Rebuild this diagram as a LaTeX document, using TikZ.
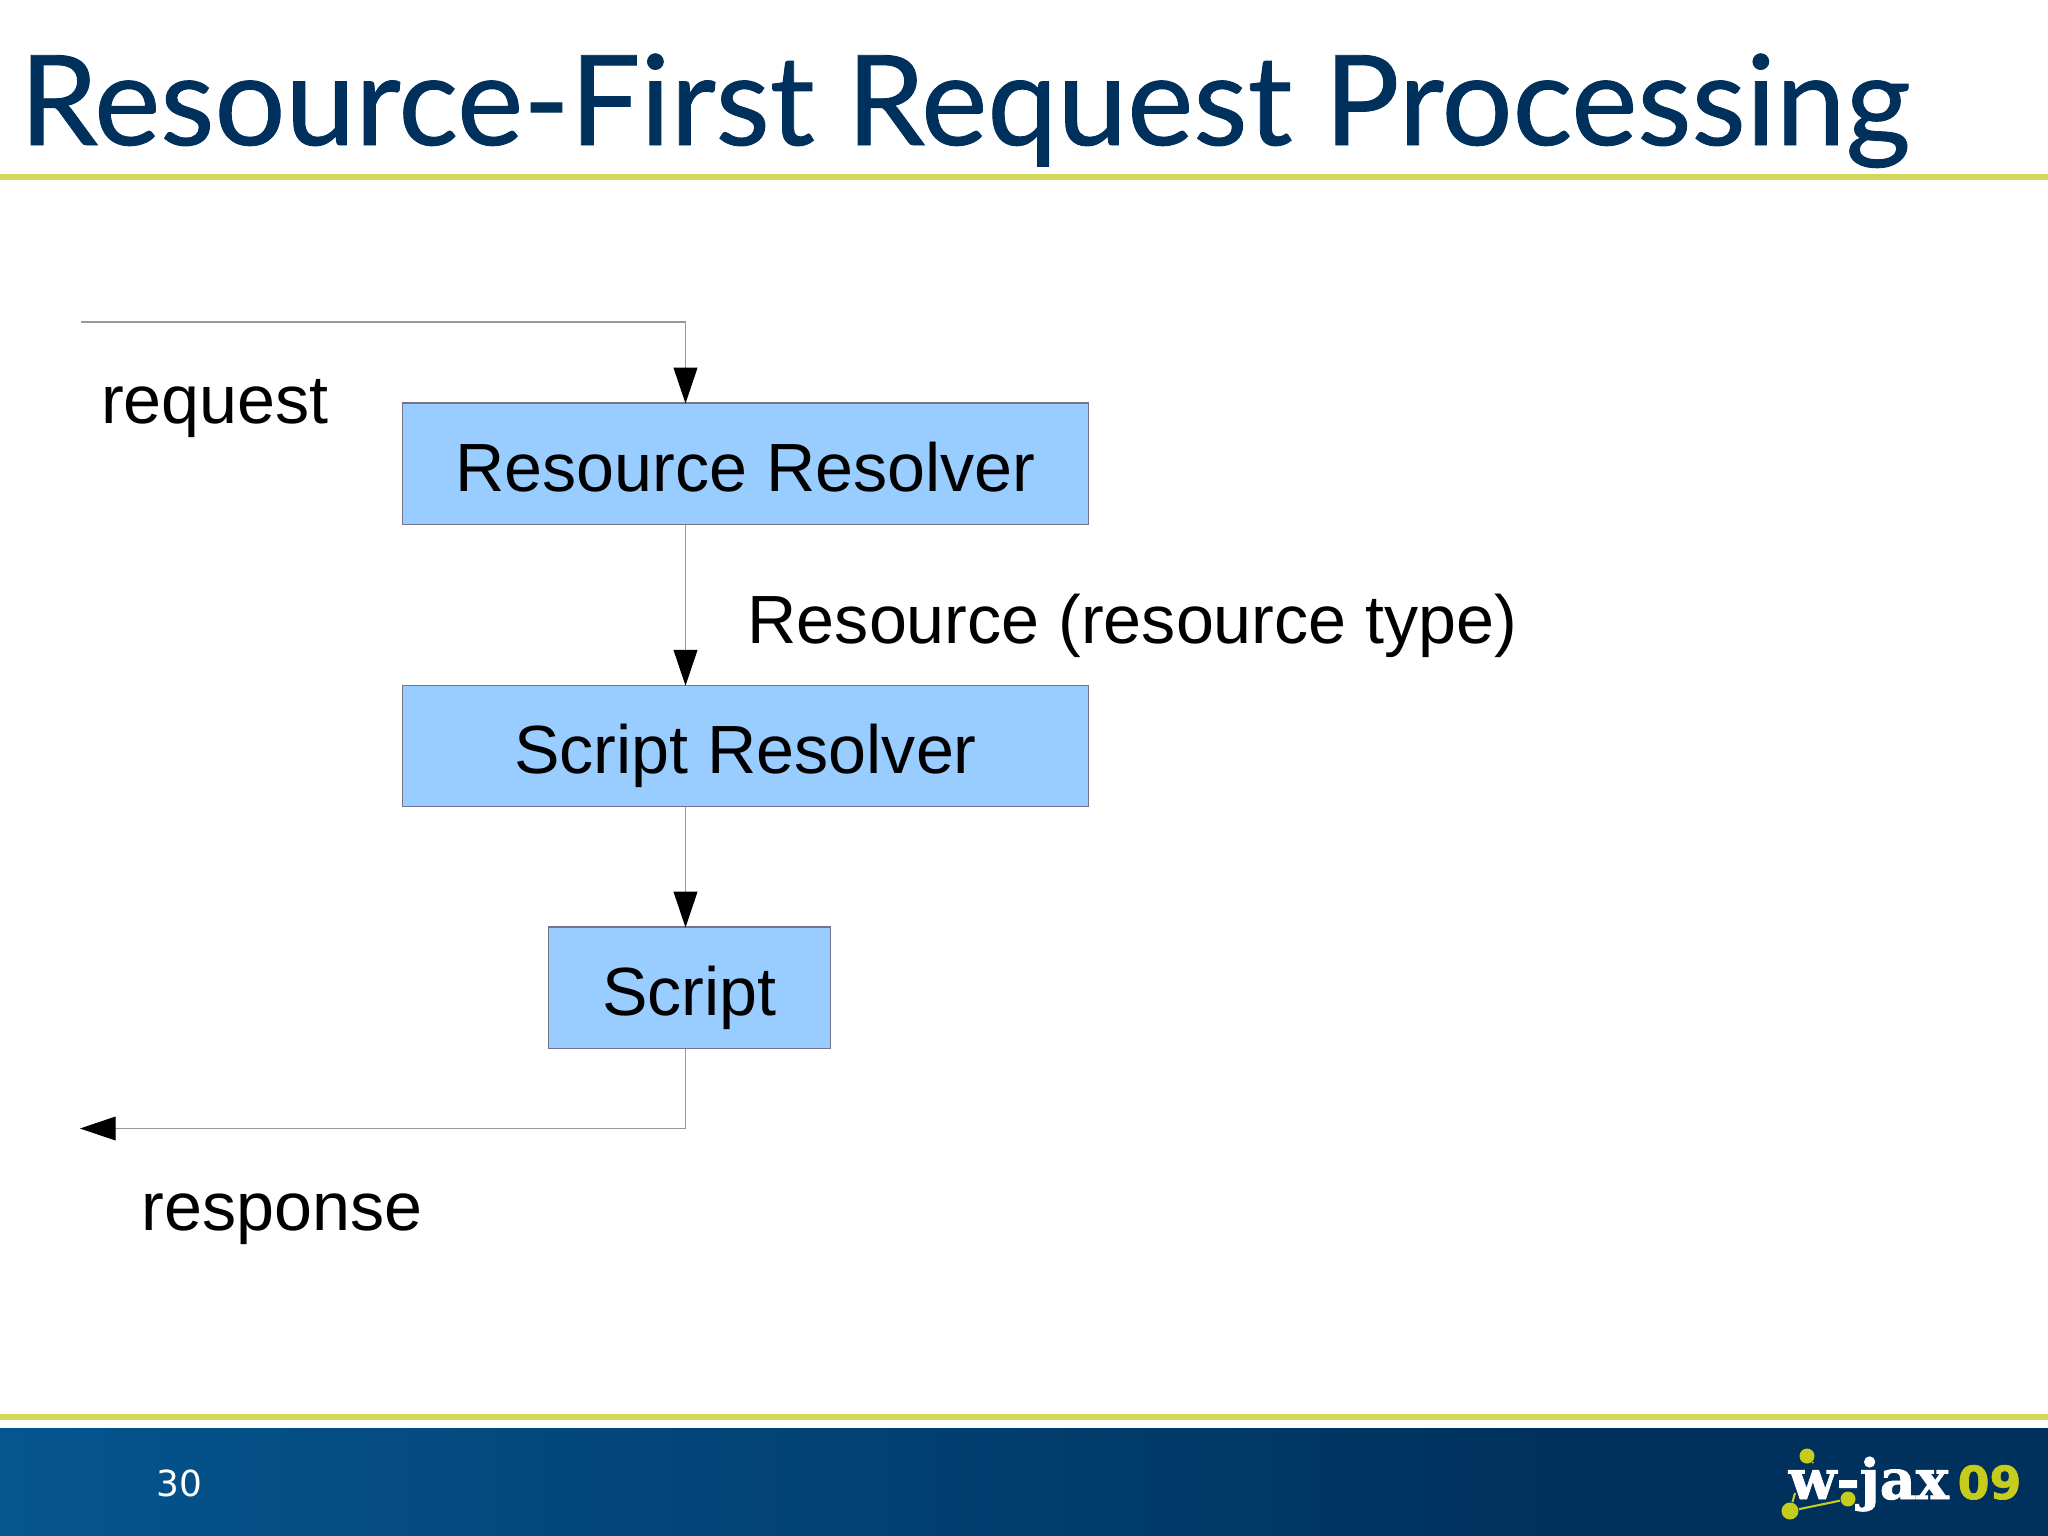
\documentclass[tikz,border=0pt]{standalone}
\usepackage{fontspec}
\setmainfont{Liberation Sans}
\newfontfamily\titlefont[FakeBold=.7]{Lato}
\newfontfamily\pagefont{DejaVu Sans}
\newfontfamily\logofont[FakeBold=1.5]{DejaVu Serif}
\newfontfamily\yearfont[FakeBold=1.5]{DejaVu Sans}
\usetikzlibrary{positioning,arrows.meta}
\definecolor{jaxnavy}{HTML}{00315C}
\definecolor{jaxblue}{HTML}{05558F}
\definecolor{jaxmid}{HTML}{045089}
\definecolor{jaxlime}{HTML}{D3D858}
\definecolor{jaxdot}{HTML}{C6CC1C}
\definecolor{boxblue}{HTML}{99CCFF}
\tikzset{
    stage/.style={draw=gray!90!blue,line width=.3pt,fill=boxblue,font=\fontsize{19.4}{23}\selectfont,text height=.88cm,text depth=.33cm,inner sep=0pt},
    link/.style={draw=gray!80,line width=.3pt,shorten >=-.01cm,-{Triangle[length=1cm/2.8,width=1cm/4.2,color=black]}},
    plain/.style={font=\fontsize{19.4}{23}\selectfont,inner sep=0pt},
    rule/.style={draw=jaxlime,line width=1.5pt},
    dot/.style={circle,fill=jaxdot,inner sep=0pt},
}
\begin{document}
\begin{tikzpicture}[x=.01cm,y=-.01cm]
    \useasboundingbox (0,0) rectangle (2048,1536);
    \node[anchor=base west,inner sep=0pt,text=jaxnavy,font=\titlefont\fontsize{35.6}{40}\selectfont] (title) at (19,145) {Resource-First Request Processing};
    \draw[rule] (0,177) -- (2048,177);
    \draw[rule] (0,1417) -- (2048,1417);
    \fill[jaxnavy] (1550,1428) rectangle (2048,1536);
    \shade[left color=jaxblue,middle color=jaxmid,right color=jaxnavy] (0,1428) rectangle (1560,1536);
    \node[text=white,inner sep=0pt,font=\pagefont\fontsize{10.2}{12}\selectfont] (page) at (179.5,1483) {30};
    % boxes
    \node[stage,minimum width=6.85cm] (resres) at (745.5,463.5) {Resource Resolver};
    \node[stage,minimum width=6.85cm,below=1.6cm of resres] (scriptres) {Script Resolver};
    \node[stage,minimum width=2.81cm] (script) at (689.5,987.5) {Script};
    % labels
    \node[plain,anchor=base] (request) at (215,423) {request};
    \node[plain,anchor=base] (response) at (282,1230) {response};
    \node[plain,anchor=base west] (restype) at (747,643) {Resource (resource type)};
    % connectors
    \coordinate (entry) at (81,322);
    \coordinate (drop) at (685.5,322);
    \coordinate (turn) at (685.5,1128.5);
    \coordinate (exit) at (81,1128.5);
    \draw[link] (entry) -- (drop) -- (drop |- resres.north);
    \draw[link] (drop |- resres.south) -- (drop |- scriptres.north);
    \draw[link] (drop |- scriptres.south) -- (drop |- script.north);
    \draw[link] (turn |- script.south) -- (turn) -- (exit);
    % logo
    \node[anchor=base west,inner sep=0pt,text=white,font=\logofont\bfseries\fontsize{15.8}{18}\selectfont] (wjax) at (1788,1499) {w-jax};
    \node[anchor=base west,inner sep=0pt,text=jaxdot,font=\yearfont\bfseries\fontsize{13}{15}\selectfont] (year) at (1957,1499) {09};
    \node[dot,minimum size=.15cm] (dota) at (1807,1456) {};
    \node[dot,minimum size=.17cm] (dotb) at (1790,1511) {};
    \node[dot,minimum size=.15cm] (dotc) at (1848,1499) {};
    \draw[jaxdot,line width=.6pt] (dotb) -- (dotc);
    \draw[jaxdot,line width=.6pt] (dotb) -- ++(5,-18);
    \draw[jaxdot,line width=.6pt] (dota) -- ++(6,7);
\end{tikzpicture}
\end{document}
